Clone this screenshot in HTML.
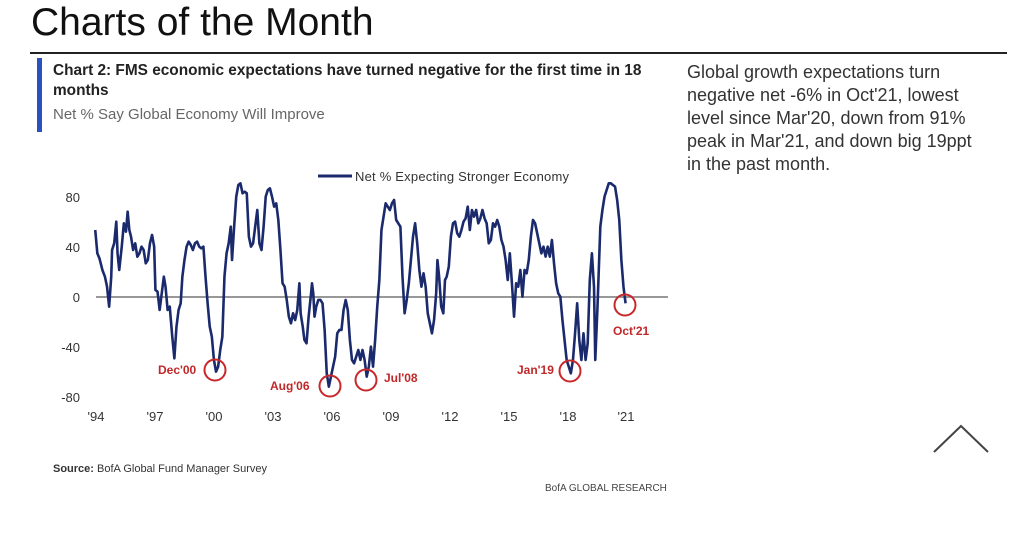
<!DOCTYPE html>
<html><head><meta charset="utf-8"><style>
body{margin:0;width:1024px;height:545px;background:#fff;overflow:hidden;position:relative;font-family:"Liberation Sans",sans-serif}
.a{position:absolute;white-space:nowrap}
</style></head><body>
<div class="a" style="left:31px;top:1px;font-size:39px;color:#111;">Charts of the Month</div>
<div class="a" style="left:30px;top:52px;width:977px;height:2px;background:#222"></div>
<div class="a" style="left:37px;top:58px;width:5px;height:74px;background:#2a52be"></div>
<div class="a" style="left:53px;top:61px;font-size:15.4px;font-weight:bold;color:#222;line-height:20px">Chart 2: FMS economic expectations have turned negative for the first time in 18<br>months</div>
<div class="a" style="left:53px;top:106px;font-size:15px;color:#666">Net % Say Global Economy Will Improve</div>
<div class="a" style="left:687px;top:61px;font-size:18px;color:#333;line-height:23px">Global growth expectations turn<br>negative net -6% in Oct'21, lowest<br>level since Mar'20, down from 91%<br>peak in Mar'21, and down big 19ppt<br>in the past month.</div>
<svg class="a" style="left:0;top:0" width="1024" height="545">
<polyline points="934,452 961,426 988,452" fill="none" stroke="#444" stroke-width="2"/>
<line x1="318" y1="176" x2="352" y2="176" stroke="#1a2a6c" stroke-width="3"/>
<text x="355" y="181" font-size="13" fill="#333" textLength="214" font-family="Liberation Sans">Net % Expecting Stronger Economy</text>
<g font-size="13" fill="#333" text-anchor="end" font-family="Liberation Sans">
<text x="80" y="202">80</text><text x="80" y="252">40</text><text x="80" y="302">0</text><text x="80" y="352">-40</text><text x="80" y="402">-80</text></g>
<g font-size="13" fill="#333" text-anchor="middle" font-family="Liberation Sans">
<text x="96" y="421">'94</text><text x="155" y="421">'97</text><text x="214" y="421">'00</text><text x="273" y="421">'03</text><text x="332" y="421">'06</text><text x="391" y="421">'09</text><text x="450" y="421">'12</text><text x="509" y="421">'15</text><text x="568" y="421">'18</text><text x="626" y="421">'21</text></g>
<line x1="96" y1="297" x2="668" y2="297" stroke="#777" stroke-width="1.5"/>
<g transform="translate(30,160) scale(0.4209,0.3333)">
<polyline fill="none" stroke="#1a2a6c" stroke-width="2.6" vector-effect="non-scaling-stroke" stroke-linejoin="round" points="155,210 160,280 165,295 172,330 178,350 183,380 188,440 193,350 195,270 200,250 205,185 208,280 212,330 218,260 223,190 228,215 232,155 236,210 240,230 245,270 250,250 255,290 260,280 265,260 270,270 275,310 280,300 285,250 290,225 295,260 298,390 303,395 308,450 313,400 318,350 322,380 327,450 332,440 338,530 343,595 348,500 353,450 358,430 362,350 367,300 372,260 377,245 382,255 387,270 392,250 397,245 402,260 407,265 412,260 417,350 422,430 427,500 432,530 437,600 442,635 447,620 452,570 457,530 462,350 467,280 472,250 477,200 480,300 485,200 490,110 495,75 500,70 505,100 510,95 515,100 520,230 525,260 530,250 535,200 540,150 545,250 550,270 555,200 560,110 565,90 570,85 575,110 580,140 585,130 590,180 595,270 600,370 605,380 610,420 615,470 620,490 625,460 630,480 635,450 640,370 643,460 648,500 652,540 657,550 662,470 667,410 670,370 673,400 676,470 680,440 685,420 690,420 695,430 700,510 705,640 710,680 715,650 720,620 725,590 730,520 735,510 740,510 745,450 750,420 755,450 760,540 765,600 770,610 775,590 780,570 785,600 790,570 795,600 800,650 805,620 810,560 815,620 820,540 825,440 830,360 835,210 840,170 845,130 850,140 855,150 860,130 865,120 870,180 875,190 880,200 885,350 890,460 895,420 900,370 905,300 910,230 915,190 920,250 925,330 930,380 935,340 940,380 945,460 950,490 955,520 960,480 965,400 968,300 972,350 977,440 982,460 986,360 990,350 995,320 1000,230 1005,190 1010,185 1015,220 1020,230 1025,210 1030,185 1035,175 1040,140 1045,210 1050,150 1055,170 1060,150 1065,190 1070,175 1075,150 1080,175 1085,190 1090,250 1095,240 1100,190 1105,200 1110,180 1115,200 1120,240 1125,260 1130,300 1135,360 1140,280 1145,370 1150,470 1155,370 1160,380 1165,330 1170,410 1175,330 1180,340 1185,300 1190,230 1195,180 1200,190 1205,220 1210,250 1215,280 1220,260 1225,290 1230,260 1235,290 1240,240 1245,310 1250,370 1255,400 1260,410 1265,480 1270,540 1275,600 1280,620 1285,640 1290,600 1295,520 1300,430 1305,540 1310,600 1315,520 1320,600 1325,550 1330,360 1335,280 1340,380 1343,600 1348,450 1355,200 1360,150 1365,110 1370,90 1375,70 1380,70 1385,75 1390,80 1395,120 1400,180 1405,300 1410,380 1415,430"/>
</g>
<g fill="none" stroke="#c8282a" stroke-width="2">
<circle cx="215" cy="370" r="10.5"/><circle cx="330" cy="386" r="10.5"/><circle cx="366" cy="380" r="10.5"/><circle cx="570" cy="371" r="10.5"/><circle cx="625" cy="305" r="10.5"/></g>
<g font-size="12" font-weight="bold" fill="#c0282a" font-family="Liberation Sans">
<text x="158" y="374">Dec'00</text><text x="270" y="390">Aug'06</text><text x="384" y="382">Jul'08</text><text x="517" y="374">Jan'19</text><text x="613" y="335">Oct'21</text></g>
<text x="53" y="472" font-size="11" fill="#333" font-family="Liberation Sans"><tspan font-weight="bold">Source:</tspan> BofA Global Fund Manager Survey</text>
<text x="545" y="491" font-size="10" fill="#444" font-family="Liberation Sans">BofA GLOBAL RESEARCH</text>
</svg>
</body></html>
